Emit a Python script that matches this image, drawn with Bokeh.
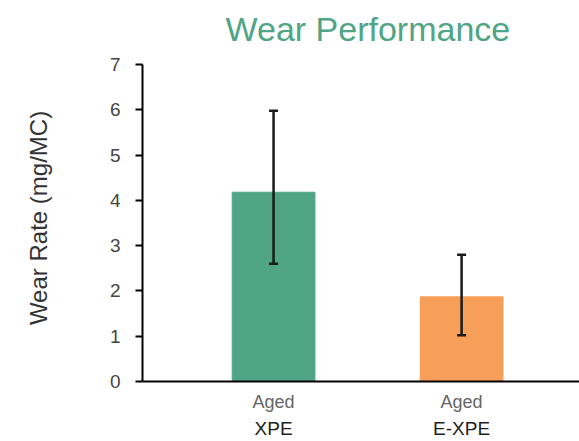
from bokeh.plotting import figure
from bokeh.models import (Range1d, FixedTicker, LinearAxis, ColumnDataSource,
                          Whisker, TeeHead, Title)
from bokeh.embed import file_html
from bokeh.resources import INLINE

# ---- data ----
title_text = "Wear Performance"
categories = ["XPE", "E-XPE"]
conditions = ["Aged", "Aged"]
wear_rate = [4.18, 1.87]
err_lower = [2.6, 1.02]
err_upper = [5.98, 2.8]
bar_colors = ["#4fa586", "#f79e59"]
y_ticks = [0, 1, 2, 3, 4, 5, 6, 7]

xs = list(range(len(categories)))
src = ColumnDataSource(dict(x=xs, top=wear_rate, lower=err_lower,
                            upper=err_upper, color=bar_colors))

FONT = "Liberation Sans"

# y range extends a little above the last tick so the title can sit higher;
# the axis line itself is bounded to the tick span
p = figure(width=579, height=441, output_backend="svg", toolbar_location=None,
           x_range=Range1d(-0.697, 1.627), y_range=Range1d(0, 7.222),
           x_axis_location=None, min_border_left=142, min_border_right=0,
           min_border_top=0, min_border_bottom=0)
p.outline_line_color = None
p.xgrid.visible = False
p.ygrid.visible = False
p.background_fill_color = "white"
p.border_fill_color = "white"

p.title = Title(text=title_text, align="left", offset=83, vertical_align="bottom",
                text_font=FONT, text_font_size="34px", text_font_style="normal",
                text_color="#4fa586", standoff=14)

p.vbar(x="x", top="top", width=0.44, color="color", source=src)

p.add_layout(Whisker(base="x", lower="lower", upper="upper", source=src,
                     level="overlay",
                     line_color="#1a1a1a", line_width=2.5,
                     upper_head=TeeHead(size=9, line_color="#1a1a1a", line_width=2.5),
                     lower_head=TeeHead(size=9, line_color="#1a1a1a", line_width=2.5)))

# y axis
ya = p.yaxis[0]
ya.ticker = FixedTicker(ticks=y_ticks)
ya.bounds = (min(y_ticks), max(y_ticks))
ya.axis_line_color = "black"
ya.axis_line_width = 2
ya.major_tick_line_color = "black"
ya.major_tick_line_width = 2
ya.major_tick_out = 7
ya.major_tick_in = 0
ya.minor_tick_line_color = None
ya.major_label_standoff = 15
ya.major_label_text_font = FONT
ya.major_label_text_font_size = "19px"
ya.major_label_text_color = "#444444"
ya.axis_label = "Wear Rate (mg/MC)"
ya.axis_label_text_font = FONT
ya.axis_label_text_font_size = "24px"
ya.axis_label_text_font_style = "normal"
ya.axis_label_text_color = "#333333"
ya.axis_label_standoff = 55

# x axis: condition line
xa1 = LinearAxis(ticker=FixedTicker(ticks=xs),
                 major_label_overrides={i: c for i, c in zip(xs, conditions)})
xa1.axis_line_color = "black"
xa1.axis_line_width = 2
xa1.major_tick_line_color = None
xa1.minor_tick_line_color = None
xa1.major_tick_out = 0
xa1.major_tick_in = 0
xa1.major_label_standoff = 10
xa1.major_label_text_font = FONT
xa1.major_label_text_font_size = "18px"
xa1.major_label_text_color = "#666666"
p.add_layout(xa1, "below")

# x axis: material line
xa2 = LinearAxis(ticker=FixedTicker(ticks=xs),
                 major_label_overrides={i: c for i, c in zip(xs, categories)})
xa2.axis_line_color = None
xa2.major_tick_line_color = None
xa2.minor_tick_line_color = None
xa2.major_tick_out = 0
xa2.major_tick_in = 0
xa2.major_label_standoff = 3
xa2.major_label_text_font = FONT
xa2.major_label_text_font_size = "19px"
xa2.major_label_text_color = "#1e1e1e"
p.add_layout(xa2, "below")

open("out.html", "w").write(file_html(p, INLINE))
